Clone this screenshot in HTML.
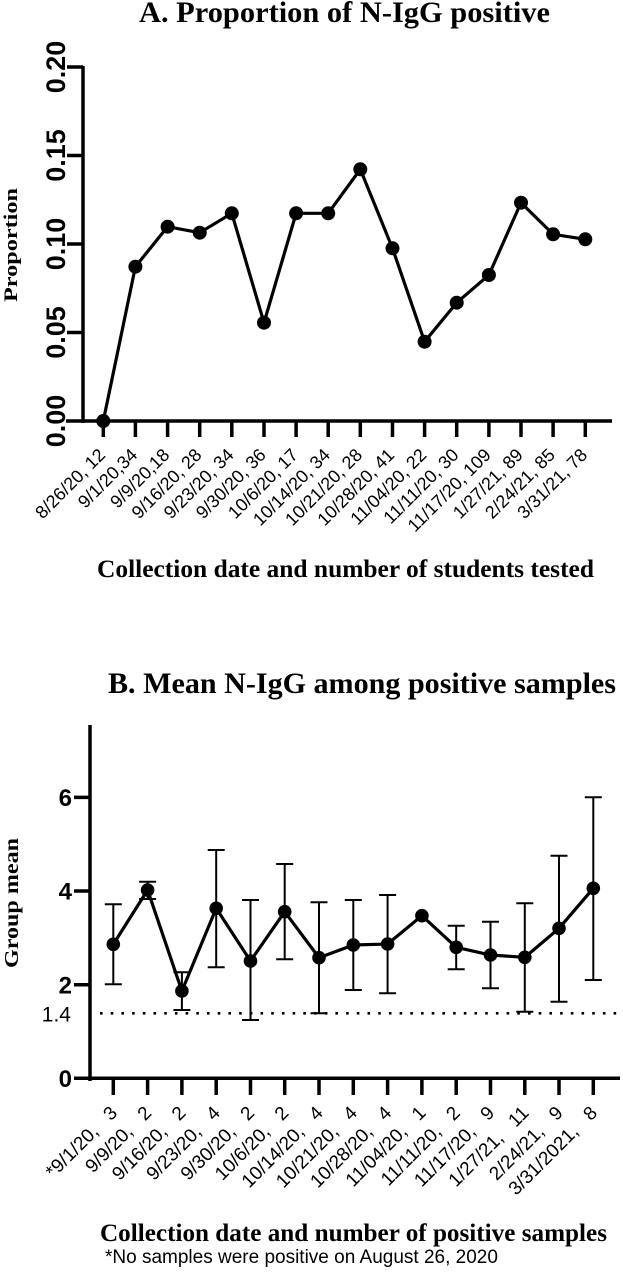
<!DOCTYPE html>
<html><head><meta charset="utf-8">
<style>
html,body{margin:0;padding:0;background:#fff;}
svg{display:block;}
.ser{font-family:"Liberation Serif",serif;font-weight:bold;}
.san{font-family:"Liberation Sans",sans-serif;}
</style></head>
<body>
<svg width="623" height="1280" viewBox="0 0 623 1280" xmlns="http://www.w3.org/2000/svg">
<rect width="623" height="1280" fill="#fff"/>

<!-- ===== Panel A ===== -->
<text class="ser" x="139" y="22" font-size="30" textLength="411" lengthAdjust="spacingAndGlyphs">A. Proportion of N-IgG positive</text>

<g stroke="#000" stroke-width="3.5" fill="none">
  <path d="M83,66 V423"/>
  <path d="M66,421 H612"/>
  <path d="M67,67 H83 M67,155.5 H83 M67,244 H83 M67,332.5 H83"/>
  <path d="M103.3,421V437 M135.4,421V437 M167.6,421V437 M199.7,421V437 M231.8,421V437 M264,421V437 M296.1,421V437 M328.2,421V437 M360.3,421V437 M392.5,421V437 M424.6,421V437 M456.7,421V437 M488.9,421V437 M521,421V437 M553.1,421V437 M585.3,421V437"/>
</g>

<g class="san" font-weight="bold" font-size="27" text-anchor="middle" fill="#000">
  <text transform="translate(65,67) rotate(-90)">0.20</text>
  <text transform="translate(65,155.5) rotate(-90)">0.15</text>
  <text transform="translate(65,244) rotate(-90)">0.10</text>
  <text transform="translate(65,332.5) rotate(-90)">0.05</text>
  <text transform="translate(65,421) rotate(-90)">0.00</text>
</g>

<text class="ser" font-size="19" text-anchor="middle" transform="translate(17,245) rotate(-90)" textLength="114" lengthAdjust="spacingAndGlyphs">Proportion</text>

<polyline fill="none" stroke="#000" stroke-width="3.2" stroke-linejoin="miter" points="103.3,421 135.4,266.7 167.6,226.7 199.7,232.7 231.8,213.3 264,322.7 296.1,213.3 328.2,213.3 360.3,169.3 392.5,248.3 424.6,341.7 456.7,302.7 488.9,275 521,202.7 553.1,234.3 585.3,239.3"/>
<g fill="#000">
  <circle cx="103.3" cy="421" r="7"/><circle cx="135.4" cy="266.7" r="7"/><circle cx="167.6" cy="226.7" r="7"/><circle cx="199.7" cy="232.7" r="7"/>
  <circle cx="231.8" cy="213.3" r="7"/><circle cx="264" cy="322.7" r="7"/><circle cx="296.1" cy="213.3" r="7"/><circle cx="328.2" cy="213.3" r="7"/>
  <circle cx="360.3" cy="169.3" r="7"/><circle cx="392.5" cy="248.3" r="7"/><circle cx="424.6" cy="341.7" r="7"/><circle cx="456.7" cy="302.7" r="7"/>
  <circle cx="488.9" cy="275" r="7"/><circle cx="521" cy="202.7" r="7"/><circle cx="553.1" cy="234.3" r="7"/><circle cx="585.3" cy="239.3" r="7"/>
</g>

<g class="san" font-size="18" text-anchor="end" fill="#000">
  <text transform="translate(106.3,456) rotate(-45)">8/26/20, 12</text>
  <text transform="translate(138.4,456) rotate(-45)">9/1/20,34</text>
  <text transform="translate(170.6,456) rotate(-45)">9/9/20,18</text>
  <text transform="translate(202.7,456) rotate(-45)">9/16/20, 28</text>
  <text transform="translate(234.8,456) rotate(-45)">9/23/20, 34</text>
  <text transform="translate(267,456) rotate(-45)">9/30/20, 36</text>
  <text transform="translate(299.1,456) rotate(-45)">10/6/20, 17</text>
  <text transform="translate(331.2,456) rotate(-45)">10/14/20, 34</text>
  <text transform="translate(363.3,456) rotate(-45)">10/21/20, 28</text>
  <text transform="translate(395.5,456) rotate(-45)">10/28/20, 41</text>
  <text transform="translate(427.6,456) rotate(-45)">11/04/20, 22</text>
  <text transform="translate(459.7,456) rotate(-45)">11/11/20, 30</text>
  <text transform="translate(491.9,456) rotate(-45)">11/17/20, 109</text>
  <text transform="translate(524,456) rotate(-45)">1/27/21, 89</text>
  <text transform="translate(556.1,456) rotate(-45)">2/24/21, 85</text>
  <text transform="translate(588.3,456) rotate(-45)">3/31/21, 78</text>
</g>

<text class="ser" x="97" y="577" font-size="25" textLength="497" lengthAdjust="spacingAndGlyphs">Collection date and number of students tested</text>

<!-- ===== Panel B ===== -->
<text class="ser" x="108" y="693" font-size="30" textLength="508" lengthAdjust="spacingAndGlyphs">B. Mean N-IgG among positive samples</text>

<g stroke="#000" stroke-width="3.5" fill="none">
  <path d="M90,725 V1081"/>
  <path d="M74,1078.3 H620"/>
  <path d="M74,797.4 H90 M74,891 H90 M74,984.7 H90"/>
  <path d="M113.3,1078V1095 M147.6,1078V1095 M181.9,1078V1095 M216.2,1078V1095 M250.5,1078V1095 M284.7,1078V1095 M319,1078V1095 M353.3,1078V1095 M387.6,1078V1095 M421.9,1078V1095 M456.2,1078V1095 M490.5,1078V1095 M524.8,1078V1095 M559,1078V1095 M593.3,1078V1095"/>
</g>

<g class="san" font-weight="bold" font-size="24" text-anchor="end" fill="#000">
  <text x="72" y="806">6</text>
  <text x="72" y="899.6">4</text>
  <text x="72" y="993.3">2</text>
  <text x="72" y="1087">0</text>
</g>
<text class="san" x="71" y="1021.5" font-size="21" text-anchor="end" fill="#000">1.4</text>

<text class="ser" font-size="20" text-anchor="middle" transform="translate(18,903) rotate(-90)" textLength="130" lengthAdjust="spacingAndGlyphs">Group mean</text>

<path d="M100,1013.3 H619" stroke="#000" stroke-width="2.6" stroke-dasharray="2.6 8.1" fill="none"/>

<!-- error bars -->
<g stroke="#000" stroke-width="2" fill="none">
  <path d="M113.3,904.3V984.3 M104.8,904.3H121.8 M104.8,984.3H121.8"/>
  <path d="M147.6,881.7V899 M139.1,881.7H156.1 M139.1,899H156.1"/>
  <path d="M181.9,972.3V1010 M173.4,972.3H190.4 M173.4,1010H190.4"/>
  <path d="M216.2,850V967.3 M207.7,850H224.7 M207.7,967.3H224.7"/>
  <path d="M250.5,900V1020 M242,900H259 M242,1020H259"/>
  <path d="M284.7,864V959.3 M276.2,864H293.2 M276.2,959.3H293.2"/>
  <path d="M319,902.3V1013.3 M310.5,902.3H327.5 M310.5,1013.3H327.5"/>
  <path d="M353.3,900V990 M344.8,900H361.8 M344.8,990H361.8"/>
  <path d="M387.6,895V993.3 M379.1,895H396.1 M379.1,993.3H396.1"/>
  <path d="M456.2,925.7V969.3 M447.7,925.7H464.7 M447.7,969.3H464.7"/>
  <path d="M490.5,921.7V988.3 M482,921.7H499 M482,988.3H499"/>
  <path d="M524.8,903.3V1011.7 M516.3,903.3H533.3 M516.3,1011.7H533.3"/>
  <path d="M559,855.7V1001.7 M550.5,855.7H567.5 M550.5,1001.7H567.5"/>
  <path d="M593.3,797.3V980 M584.8,797.3H601.8 M584.8,980H601.8"/>
</g>

<polyline fill="none" stroke="#000" stroke-width="3.2" points="113.3,944.3 147.6,890 181.9,991 216.2,908.3 250.5,961 284.7,911.7 319,957.7 353.3,945 387.6,944 421.9,915.7 456.2,947.3 490.5,955 524.8,957.3 559,928.3 593.3,888.3"/>
<g fill="#000">
  <circle cx="113.3" cy="944.3" r="6.8"/><circle cx="147.6" cy="890" r="6.8"/><circle cx="181.9" cy="991" r="6.8"/>
  <circle cx="216.2" cy="908.3" r="6.8"/><circle cx="250.5" cy="961" r="6.8"/><circle cx="284.7" cy="911.7" r="6.8"/>
  <circle cx="319" cy="957.7" r="6.8"/><circle cx="353.3" cy="945" r="6.8"/><circle cx="387.6" cy="944" r="6.8"/>
  <circle cx="421.9" cy="915.7" r="6.8"/><circle cx="456.2" cy="947.3" r="6.8"/><circle cx="490.5" cy="955" r="6.8"/>
  <circle cx="524.8" cy="957.3" r="6.8"/><circle cx="559" cy="928.3" r="6.8"/><circle cx="593.3" cy="888.3" r="6.8"/>
</g>

<g class="san" font-size="19" text-anchor="end" fill="#000">
  <text transform="translate(118.3,1114) rotate(-45)">*9/1/20,&#160;&#160;&#160;3</text>
  <text transform="translate(152.6,1114) rotate(-45)">9/9/20,&#160;&#160;&#160;2</text>
  <text transform="translate(186.9,1114) rotate(-45)">9/16/20,&#160;&#160;&#160;2</text>
  <text transform="translate(221.2,1114) rotate(-45)">9/23/20,&#160;&#160;&#160;4</text>
  <text transform="translate(255.5,1114) rotate(-45)">9/30/20,&#160;&#160;&#160;2</text>
  <text transform="translate(289.7,1114) rotate(-45)">10/6/20,&#160;&#160;&#160;2</text>
  <text transform="translate(324,1114) rotate(-45)">10/14/20,&#160;&#160;&#160;4</text>
  <text transform="translate(358.3,1114) rotate(-45)">10/21/20,&#160;&#160;&#160;4</text>
  <text transform="translate(392.6,1114) rotate(-45)">10/28/20,&#160;&#160;&#160;4</text>
  <text transform="translate(426.9,1114) rotate(-45)">11/04/20,&#160;&#160;&#160;1</text>
  <text transform="translate(461.2,1114) rotate(-45)">11/11/20,&#160;&#160;&#160;2</text>
  <text transform="translate(495.5,1114) rotate(-45)">11/17/20,&#160;&#160;&#160;9</text>
  <text transform="translate(529.8,1114) rotate(-45)">1/27/21,&#160;&#160;&#160;11</text>
  <text transform="translate(564,1114) rotate(-45)">2/24/21,&#160;&#160;&#160;9</text>
  <text transform="translate(598.3,1114) rotate(-45)">3/31/2021,&#160;&#160;&#160;8</text>
</g>

<text class="ser" x="100" y="1241" font-size="25" textLength="507" lengthAdjust="spacingAndGlyphs">Collection date and number of positive samples</text>

<text class="san" x="105" y="1263" font-size="19" fill="#000">*No samples were positive on August 26, 2020</text>
</svg>
</body></html>
